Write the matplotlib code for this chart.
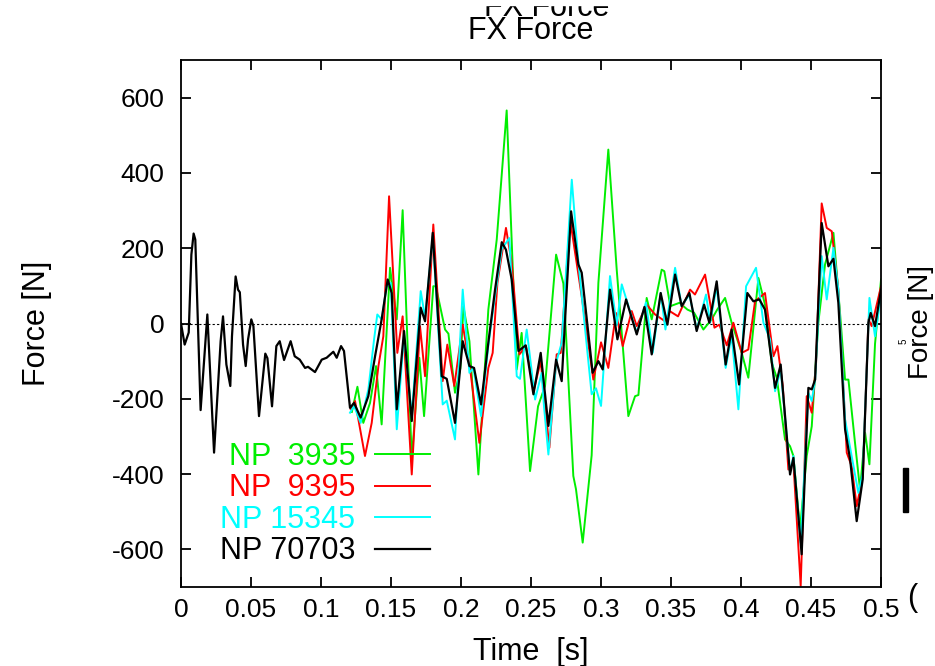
import matplotlib
matplotlib.use('Agg')
import matplotlib.pyplot as plt
from matplotlib.patches import Rectangle

plt.rcParams['font.family'] = ['Liberation Sans', 'DejaVu Sans']
plt.rcParams['axes.unicode_minus'] = False

# NP 70703 (black)
t_black = [0.0, 0.0026, 0.0055, 0.0074, 0.009, 0.0102, 0.014, 0.0188, 0.0236, 0.0283,
           0.030, 0.0324, 0.0352, 0.0364, 0.039, 0.0407, 0.042, 0.0443, 0.0462, 0.0479,
           0.0502, 0.0517, 0.0557, 0.0602, 0.0617, 0.065, 0.0681, 0.0705, 0.0736, 0.0783,
           0.0812, 0.0848, 0.0886, 0.0907, 0.0957, 0.1005, 0.104, 0.1088, 0.1112, 0.1143,
           0.1164, 0.1207, 0.1236, 0.1283, 0.1338, 0.1386, 0.1433, 0.1476, 0.1505, 0.1541,
           0.1593, 0.1648, 0.1712, 0.1743, 0.1798, 0.1862, 0.1898, 0.1957, 0.2012, 0.2060,
           0.2093, 0.2143, 0.2195, 0.2243, 0.2291, 0.2321, 0.2362, 0.2410, 0.2462, 0.2517,
           0.2569, 0.2624, 0.2679, 0.2719, 0.2786, 0.2838, 0.2862, 0.2940, 0.2981, 0.3012,
           0.3064, 0.3117, 0.3179, 0.3255, 0.3310, 0.3362, 0.3426, 0.3474, 0.3529, 0.3576,
           0.3631, 0.3683, 0.3736, 0.3774, 0.3826, 0.3890, 0.3933, 0.3986, 0.4045, 0.4088,
           0.4131, 0.4171, 0.4243, 0.4283, 0.4350, 0.4374, 0.4433, 0.4481, 0.4505, 0.4529,
           0.4576, 0.4624, 0.4660, 0.4695, 0.4743, 0.4779, 0.4826, 0.4869, 0.4910, 0.4926,
           0.4957, 0.5]
f_black = [0, -56, -24, 183, 239, 223, -230, 24, -343, -47,
           19, -109, -166, -34, 125, 90, 83, -56, -113, -42,
           11, -7, -246, -80, -92, -220, -60, -47, -97, -47,
           -87, -96, -118, -115, -129, -96, -91, -75, -91, -60,
           -73, -224, -211, -250, -193, -87, 11, 117, 81, -228,
           -20, -259, 42, 6, 241, -140, -147, -264, -47, -113,
           -118, -215, -51, 90, 216, 196, 117, -73, -58, -188,
           -78, -272, -96, -153, 298, 157, 135, -131, -100, -122,
           90, -42, 64, -29, 44, -82, 81, -3, 130, 46,
           81, -20, 50, 2, 112, -109, -16, -162, 81, 59,
           64, 37, -171, -109, -401, -357, -613, -171, -175, -149,
           267, 152, 172, 55, -281, -361, -525, -414, 2, 28,
           -7, 90]

# NP 9395 (red)
t_red = [0.1212, 0.1243, 0.1314, 0.1362, 0.1410, 0.1445, 0.1486, 0.1545, 0.1583, 0.1648,
         0.1707, 0.1743, 0.1802, 0.1869, 0.1902, 0.1952, 0.2012, 0.2064, 0.2131, 0.2195,
         0.2226, 0.2260, 0.2321, 0.2362, 0.2417, 0.2464, 0.2521, 0.2569, 0.2631, 0.2683,
         0.2712, 0.2779, 0.2862, 0.2945, 0.3000, 0.3052, 0.3107, 0.3155, 0.3219, 0.3255,
         0.3326, 0.3386, 0.3457, 0.3490, 0.3550, 0.3636, 0.3671, 0.3743, 0.3810, 0.3845,
         0.3898, 0.3945, 0.4005, 0.4052, 0.4100, 0.4171, 0.4231, 0.4260, 0.4298, 0.4338,
         0.4374, 0.4426, 0.4469, 0.4505, 0.4536, 0.4576, 0.4612, 0.4648, 0.4695, 0.4755,
         0.4790, 0.4826, 0.4870, 0.4910, 0.4933, 0.5]
f_red = [-227, -206, -352, -264, -113, -34, 338, -78, 19, -401,
         -7, -140, 263, -153, -56, -166, -3, -118, -317, -118,
         -78, 108, 254, 161, -82, -60, -175, -100, -330, -82,
         -78, 276, 72, -149, -50, -118, 28, -60, 33, -7,
         50, 24, 6, 33, 19, 90, 77, 130, -11, -3,
         -58, 2, -78, -69, 59, 81, -87, -60, -166, -388,
         -370, -697, -193, -237, -104, 319, 254, 245, 90, -343,
         -379, -485, -406, 11, -7, 99]

# NP 15345 (cyan)
t_cyan = [0.1207, 0.1236, 0.1283, 0.1338, 0.1379, 0.1402, 0.1433, 0.1469, 0.1498, 0.1541,
          0.1593, 0.1648, 0.1712, 0.1743, 0.1798, 0.1869, 0.1898, 0.1957, 0.2012, 0.2060,
          0.2088, 0.2143, 0.2195, 0.2243, 0.2291, 0.2345, 0.2398, 0.2421, 0.2469, 0.2529,
          0.2576, 0.2593, 0.2624, 0.2679, 0.2719, 0.2791, 0.2838, 0.2933, 0.2964, 0.3000,
          0.3064, 0.3112, 0.3148, 0.3255, 0.3321, 0.3369, 0.3426, 0.3460, 0.3529, 0.3576,
          0.3631, 0.3683, 0.3750, 0.3779, 0.3826, 0.3890, 0.3933, 0.3981, 0.4036, 0.4107,
          0.4160, 0.4207, 0.4243, 0.4283, 0.4350, 0.4374, 0.4426, 0.4481, 0.4505, 0.4529,
          0.4576, 0.4612, 0.4660, 0.4695, 0.4743, 0.4790, 0.4838, 0.4869, 0.4917, 0.4957,
          0.5]
f_cyan = [-237, -219, -264, -175, -42, 24, 11, 99, 108, -281,
          -29, -246, 86, 16, 232, -215, -205, -308, 90, -131,
          -118, -246, -58, 73, 198, 227, -140, -147, -16, -202,
          -131, -222, -348, -104, -51, 382, 164, -188, -172, -219,
          126, -4, 104, -25, 56, -78, 81, -16, 148, 46,
          77, -16, 77, 2, 99, -118, -32, -228, 99, 148,
          2, -42, -180, -122, -397, -352, -582, -184, -206, -149,
          179, 64, 201, 90, -255, -352, -450, -400, 68, -34,
          75]

# NP 3935 (green)
t_green = [0.1220, 0.1260, 0.1302, 0.1350, 0.1393, 0.1433, 0.1493, 0.1541, 0.1583, 0.1648,
           0.1702, 0.1736, 0.1802, 0.1820, 0.1886, 0.1910, 0.1957, 0.1995, 0.2017, 0.2060,
           0.2124, 0.2195, 0.2255, 0.2326, 0.2362, 0.2398, 0.2433, 0.2493, 0.2550, 0.2600,
           0.2679, 0.2731, 0.2802, 0.2821, 0.2869, 0.2933, 0.2981, 0.3052, 0.3112, 0.3195,
           0.3243, 0.3267, 0.3326, 0.3362, 0.3433, 0.3452, 0.3495, 0.3560, 0.3617, 0.3664,
           0.3731, 0.3790, 0.3830, 0.3886, 0.3933, 0.4005, 0.4052, 0.4124, 0.4171, 0.4219,
           0.4255, 0.4314, 0.4350, 0.4374, 0.4421, 0.4469, 0.4505, 0.4552, 0.4600, 0.4660,
           0.4707, 0.4743, 0.4767, 0.4814, 0.4850, 0.4886, 0.4917, 0.4957, 0.5]
f_green = [-235, -168, -264, -211, -113, -268, 148, 11, 301, -361,
           -91, -246, 99, 99, -16, -27, -184, -120, 46, -47,
           -401, 37, 223, 566, 218, -122, -25, -392, -220, -166,
           183, 106, -405, -440, -582, -350, 108, 462, 143, -246,
           -193, -190, 68, 11, 143, 139, 46, 55, 37, 29,
           -16, 11, 37, 68, 2, -78, -144, 121, 50, -104,
           -144, -308, -326, -352, -547, -352, -273, 2, 157, 241,
           28, -149, -149, -317, -441, -290, -374, -54, 117]

labels = ['NP  3935', 'NP  9395', 'NP 15345', 'NP 70703']
colors = ['#00ee00', '#ff0000', '#00ffff', '#000000']

fig = plt.figure(figsize=(9.35, 6.66), dpi=100)
ax = fig.add_axes([0.1936, 0.1186, 0.7487, 0.7913])

ax.axhline(0, color='black', lw=0.8, linestyle=(0, (2, 2)))
ax.plot(t_green, f_green, color=colors[0], lw=1.4, label=labels[0])
ax.plot(t_red, f_red, color=colors[1], lw=1.4, label=labels[1])
ax.plot(t_cyan, f_cyan, color=colors[2], lw=1.4, label=labels[2])
ax.plot(t_black, f_black, color=colors[3], lw=1.6, label=labels[3])

ax.set_xlim(0, 0.5)
ax.set_ylim(-700, 700)
ax.set_xticks([0, 0.05, 0.1, 0.15, 0.2, 0.25, 0.3, 0.35, 0.4, 0.45, 0.5])
ax.set_xticklabels(['0', '0.05', '0.1', '0.15', '0.2', '0.25', '0.3', '0.35', '0.4', '0.45', '0.5'])
ax.set_yticks([-600, -400, -200, 0, 200, 400, 600])
ax.tick_params(direction='in', length=7, width=1.3, top=True, right=True, labelsize=19)
ax.tick_params(axis='y', pad=12)
ax.tick_params(axis='x', pad=8)
for s in ax.spines.values():
    s.set_linewidth(1.3)

ax.set_title('FX Force', fontsize=22, pad=15)
ax.set_xlabel('Time  [s]', fontsize=22, labelpad=11)
ax.set_ylabel('Force [N]', fontsize=22, labelpad=43)

leg = ax.legend(loc='lower left', bbox_to_anchor=(0.0556, 0.039), frameon=False,
                markerfirst=False, labelcolor='linecolor', fontsize=22,
                handlelength=1.8, handletextpad=0.65, labelspacing=0.05,
                borderpad=0, borderaxespad=0)

# overlapped remnants from another plot
fig.text(547 / 935, 1 - 16 / 666, 'FX Force', fontsize=22, ha='center', va='baseline')
fig.patches.append(Rectangle((0.4, 1 - 5 / 666), 0.3, 5 / 666,
                             transform=fig.transFigure, color='white', zorder=5))
fig.text(921 / 935, 1 - 322 / 666, 'Force [N]', fontsize=20, rotation=90, ha='center', va='center')
fig.text(904 / 935, 1 - 341 / 666, '5', fontsize=7, ha='center', va='center', rotation=90)
fig.text(912 / 935, 1 - 598 / 666, '(', fontsize=22, ha='center', va='center')
fig.patches.append(Rectangle((903 / 935, 1 - 512 / 666), 5 / 935, 44 / 666,
                             transform=fig.transFigure, color='black'))

fig.savefig('out.png', dpi=100)
